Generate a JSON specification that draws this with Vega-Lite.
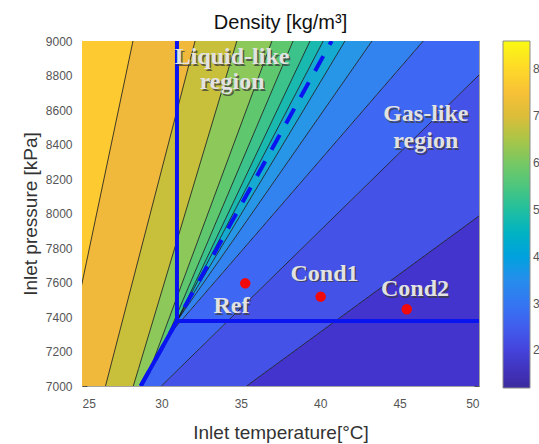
{
  "$schema": "https://vega.github.io/schema/vega-lite/v6.json",
  "width": 397,
  "height": 345,
  "autosize": {"type": "none"},
  "padding": {"left": 82, "top": 41, "right": 60, "bottom": 58},
  "background": "white",
  "config": {
    "view": {"stroke": null},
    "font": "Liberation Sans",
    "axis": {
      "domainColor": "#A3A3A3", "domainWidth": 1,
      "tickColor": "#505050", "tickSize": -5, "tickWidth": 1,
      "labelFont": "Liberation Sans", "labelFontSize": 12, "labelColor": "#555555", "labelPadding": 15,
      "titleFont": "Liberation Sans", "titleFontSize": 19, "titleFontWeight": "normal", "titleColor": "#333333",
      "grid": false, "zindex": 1, "format": "d"
    },
    "legend": {"padding": 0}
  },
  "title": {
    "text": "Density [kg/m³]", "font": "Liberation Sans", "fontSize": 20, "fontWeight": "normal",
    "color": "#111111", "anchor": "middle", "baseline": "alphabetic", "offset": 12, "dy": 26
  },
  "datasets": {
    "bands": [
      {"b": 775, "P": 7000, "L": 20, "R": 23.64}, {"b": 775, "P": 9000, "L": 20, "R": 28.21},
      {"b": 725, "P": 7000, "L": 23.64, "R": 26.48}, {"b": 725, "P": 9000, "L": 28.21, "R": 32.12},
      {"b": 675, "P": 7000, "L": 26.48, "R": 28.23}, {"b": 675, "P": 9000, "L": 32.12, "R": 34.75},
      {"b": 625, "P": 7000, "L": 28.23, "R": 28.70}, {"b": 625, "P": 7100, "L": 28.56, "R": 29.30}, {"b": 625, "P": 9000, "L": 34.75, "R": 36.96},
      {"b": 575, "P": 7000, "L": 28.70, "R": 28.70}, {"b": 575, "P": 7100, "L": 29.30, "R": 29.30}, {"b": 575, "P": 7250, "L": 29.91, "R": 30.21}, {"b": 575, "P": 9000, "L": 36.96, "R": 38.29},
      {"b": 525, "P": 7000, "L": 28.70, "R": 28.70}, {"b": 525, "P": 7250, "L": 30.21, "R": 30.21}, {"b": 525, "P": 7377, "L": 30.80, "R": 30.98}, {"b": 525, "P": 9000, "L": 38.29, "R": 39.36},
      {"b": 475, "P": 7000, "L": 28.70, "R": 28.70}, {"b": 475, "P": 7377, "L": 30.98, "R": 30.98}, {"b": 475, "P": 9000, "L": 39.36, "R": 40.19},
      {"b": 425, "P": 7000, "L": 28.70, "R": 28.70}, {"b": 425, "P": 7377, "L": 30.98, "R": 30.98}, {"b": 425, "P": 9000, "L": 40.19, "R": 41.56},
      {"b": 375, "P": 7000, "L": 28.70, "R": 28.70}, {"b": 375, "P": 7377, "L": 30.98, "R": 30.98}, {"b": 375, "P": 9000, "L": 41.56, "R": 43.26},
      {"b": 325, "P": 7000, "L": 28.70, "R": 28.70}, {"b": 325, "P": 7300, "L": 30.51, "R": 30.51}, {"b": 325, "P": 7377, "L": 30.98, "R": 31.23}, {"b": 325, "P": 9000, "L": 43.26, "R": 46.49},
      {"b": 275, "P": 7000, "L": 28.70, "R": 30.00}, {"b": 275, "P": 7300, "L": 30.51, "R": 33.33}, {"b": 275, "P": 9000, "L": 46.49, "R": 52.19},
      {"b": 225, "P": 7000, "L": 30.00, "R": 35.37}, {"b": 225, "P": 9000, "L": 52.19, "R": 65.06},
      {"b": 175, "P": 7000, "L": 35.37, "R": 70}, {"b": 175, "P": 9000, "L": 65.06, "R": 70}
    ],
    "blue": [
      {"id": "sat", "k": 0, "T": 28.70, "P": 7000}, {"id": "sat", "k": 1, "T": 30.98, "P": 7377},
      {"id": "vert", "k": 0, "T": 30.98, "P": 7377}, {"id": "vert", "k": 1, "T": 30.98, "P": 9000},
      {"id": "horiz", "k": 0, "T": 30.98, "P": 7377}, {"id": "horiz", "k": 1, "T": 50, "P": 7377}
    ],
    "widom": [
      {"k": 0, "T": 28.70, "P": 7000}, {"k": 1, "T": 30.98, "P": 7377}, {"k": 2, "T": 40.72, "P": 9000}
    ],
    "pts": [
      {"name": "Ref", "T": 35.28, "P": 7595},
      {"name": "Cond1", "T": 40.03, "P": 7518},
      {"name": "Cond2", "T": 45.45, "P": 7445}
    ],
    "labels": [
      {"t": "Liquid-like", "T": 34.45, "P": 8905},
      {"t": "region", "T": 34.45, "P": 8760},
      {"t": "Gas-like", "T": 46.65, "P": 8575},
      {"t": "region", "T": 46.65, "P": 8420},
      {"t": "Ref", "T": 34.41, "P": 7462},
      {"t": "Cond1", "T": 40.27, "P": 7650},
      {"t": "Cond2", "T": 45.97, "P": 7562}
    ]
  },
  "resolve": {"axis": {"x": "independent", "y": "independent"}},
  "layer": [
    {
      "data": {"name": "bands"},
      "mark": {"type": "area", "orient": "horizontal", "clip": true, "opacity": 1},
      "encoding": {
        "y": {"field": "P", "type": "quantitative", "scale": {"domain": [7000, 9000], "nice": false, "zero": false},
              "axis": {"orient": "left", "values": [7000, 7200, 7400, 7600, 7800, 8000, 8200, 8400, 8600, 8800, 9000], "title": "Inlet pressure [kPa]", "titleX": -46, "titleY": 172.5, "titleBaseline": "alphabetic", "titleAngle": -90}},
        "x": {"field": "L", "type": "quantitative", "stack": null, "scale": {"domain": [25, 50], "nice": false, "zero": false},
              "axis": {"orient": "bottom", "values": [25, 30, 35, 40, 45, 50], "title": "Inlet temperature[°C]", "titleY": 52, "titleBaseline": "alphabetic", "labelPadding": 17}},
        "x2": {"field": "R"},
        "detail": {"field": "b", "type": "nominal"},
        "color": {
          "field": "b", "type": "quantitative",
          "scale": {
            "domain": [120, 175, 225, 275, 325, 375, 425, 475, 525, 575, 625, 675, 725, 775, 860],
            "range": ["#3B2C9E", "#4334CD", "#4452E8", "#3E68F3", "#3282F0", "#2896E6", "#14AAD2", "#19B9AF", "#3CC38C", "#5FC86E", "#8CC85A", "#C8C03A", "#F0B93C", "#FDCA32", "#F9FA12"]
          },
          "legend": {
            "orient": "right", "offset": 23, "title": null, "direction": "vertical",
            "gradientLength": 347, "gradientThickness": 27,
            "gradientStrokeColor": "#8C8C8C", "gradientStrokeWidth": 1,
            "values": [200, 300, 400, 500, 600, 700, 800],
            "labelFont": "Liberation Sans", "labelFontSize": 12, "labelColor": "#555555", "labelOffset": 3, "labelOverlap": false
          }
        }
      }
    },
    {
      "data": {"name": "bands"},
      "transform": [{"filter": "datum.b < 775"}],
      "mark": {"type": "line", "clip": true, "color": "#111111", "strokeWidth": 0.8},
      "encoding": {
        "x": {"field": "L", "type": "quantitative", "axis": {"orient": "top", "values": [25, 30, 35, 40, 45, 50], "labels": false, "title": null}},
        "y": {"field": "P", "type": "quantitative", "axis": {"orient": "right", "values": [7000, 7200, 7400, 7600, 7800, 8000, 8200, 8400, 8600, 8800, 9000], "labels": false, "title": null}},
        "detail": {"field": "b", "type": "nominal"},
        "order": {"field": "P", "type": "quantitative"}
      }
    },
    {
      "data": {"name": "blue"},
      "mark": {"type": "line", "clip": true, "color": "#0A14F0", "strokeWidth": 4},
      "encoding": {
        "x": {"field": "T", "type": "quantitative", "axis": null},
        "y": {"field": "P", "type": "quantitative", "axis": null},
        "detail": {"field": "id", "type": "nominal"},
        "order": {"field": "k", "type": "quantitative"}
      }
    },
    {
      "data": {"name": "widom"},
      "mark": {"type": "line", "clip": true, "color": "#0A14F0", "strokeWidth": 4, "strokeDash": [17, 13]},
      "encoding": {
        "x": {"field": "T", "type": "quantitative", "axis": null},
        "y": {"field": "P", "type": "quantitative", "axis": null},
        "order": {"field": "k", "type": "quantitative"}
      }
    },
    {
      "data": {"name": "pts"},
      "mark": {"type": "point", "filled": true, "color": "#F20A0A", "opacity": 1, "size": 110, "shape": "circle"},
      "encoding": {
        "x": {"field": "T", "type": "quantitative", "axis": null},
        "y": {"field": "P", "type": "quantitative", "axis": null}
      }
    },
    {
      "data": {"name": "labels"},
      "mark": {"type": "text", "font": "Liberation Serif", "fontWeight": "bold", "fontSize": 24, "color": "#3C3C3C", "opacity": 0.75, "dx": 1.5, "dy": 1.5, "align": "center", "baseline": "middle"},
      "encoding": {
        "x": {"field": "T", "type": "quantitative", "axis": null},
        "y": {"field": "P", "type": "quantitative", "axis": null},
        "text": {"field": "t"}
      }
    },
    {
      "data": {"name": "labels"},
      "mark": {"type": "text", "font": "Liberation Serif", "fontWeight": "bold", "fontSize": 24, "color": "#E2E2E2", "align": "center", "baseline": "middle"},
      "encoding": {
        "x": {"field": "T", "type": "quantitative", "axis": null},
        "y": {"field": "P", "type": "quantitative", "axis": null},
        "text": {"field": "t"}
      }
    }
  ]
}
